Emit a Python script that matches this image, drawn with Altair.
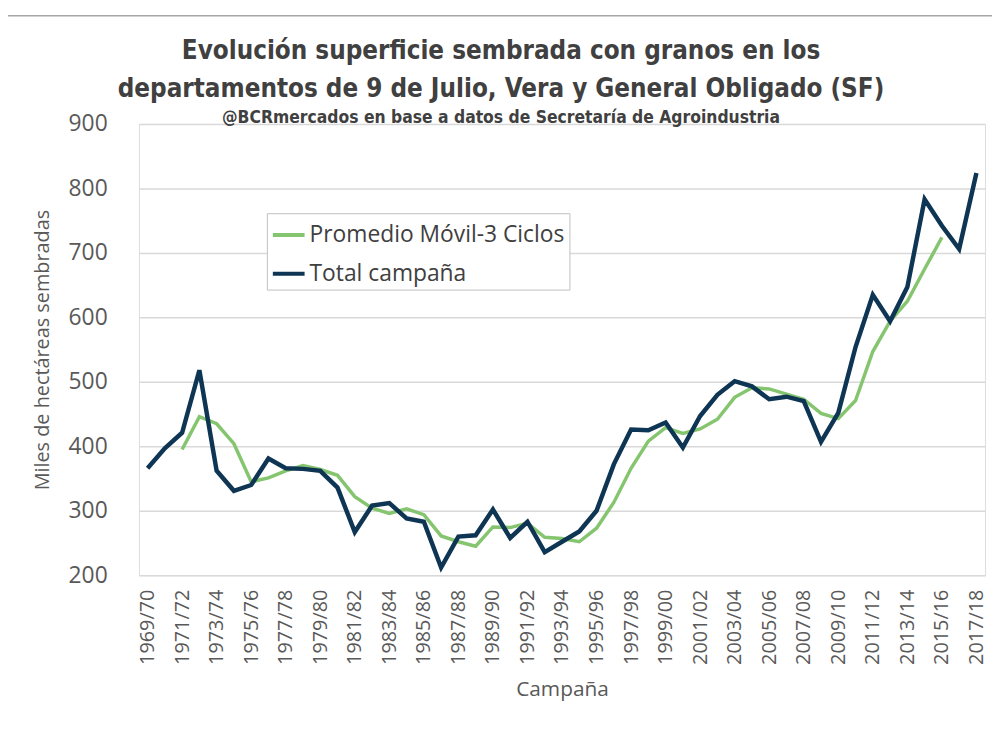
import altair as alt
import pandas as pd

campaigns = [
    "1969/70", "1970/71", "1971/72", "1972/73", "1973/74", "1974/75", "1975/76",
    "1976/77", "1977/78", "1978/79", "1979/80", "1980/81", "1981/82", "1982/83",
    "1983/84", "1984/85", "1985/86", "1986/87", "1987/88", "1988/89", "1989/90",
    "1990/91", "1991/92", "1992/93", "1993/94", "1994/95", "1995/96", "1996/97",
    "1997/98", "1998/99", "1999/00", "2000/01", "2001/02", "2002/03", "2003/04",
    "2004/05", "2005/06", "2006/07", "2007/08", "2008/09", "2009/10", "2010/11",
    "2011/12", "2012/13", "2013/14", "2014/15", "2015/16", "2016/17", "2017/18",
]

total = [
    366, 397, 421, 518, 362, 331, 340, 381, 366, 365, 362, 336, 267, 308,
    312, 288, 283, 212, 260, 262, 302, 258, 283, 236, 252, 268, 300, 372,
    426, 425, 437, 398, 447, 480, 501, 493, 473, 477, 470, 407, 452, 554,
    635, 594, 647, 783, 742, 706, 824,
]

# Promedio móvil (3 ciclos): 1971/72 .. 2015/16
promedio = [
    None, None, 395, 446, 435, 404, 345, 351, 362, 370, 364, 355, 322, 304,
    296, 303, 294, 261, 252, 245, 275, 274, 281, 259, 257, 252, 273, 313,
    366, 408, 429, 420, 427, 442, 476, 491, 489, 481, 473, 451, 443, 471,
    547, 594, 625, 675, 724, None, None,
]

tick_labels = [
    "1969/70", "1971/72", "1973/74", "1975/76", "1977/78", "1979/80", "1981/82",
    "1983/84", "1985/86", "1987/88", "1989/90", "1991/92", "1993/94", "1995/96",
    "1997/98", "1999/00", "2001/02", "2003/04", "2005/06", "2007/08", "2009/10",
    "2011/12", "2013/14", "2015/16", "2017/18",
]
y_ticks = [200, 300, 400, 500, 600, 700, 800, 900]

series_names = ["Promedio Móvil-3 Ciclos", "Total campaña"]
series_colors = ["#86c56f", "#0e3553"]

title_line1 = "Evolución superficie sembrada con granos en los"
title_line2 = "departamentos de 9 de Julio, Vera y General Obligado (SF)"
subtitle = "@BCRmercados en base a datos de Secretaría de Agroindustria"

df_total = pd.DataFrame({"Campaña": campaigns, "valor": total, "serie": series_names[1]})
df_prom = pd.DataFrame({"Campaña": campaigns, "valor": promedio, "serie": series_names[0]}).dropna()
df_one = pd.DataFrame({"k": [0]})

TXT = "#404040"
LBL = "#595959"
BODY_FONT = "Open Sans"
TITLE_FONT = "Liberation Sans Narrow, DejaVu Sans Condensed, sans-serif"

x_enc = alt.X(
    "Campaña:N",
    sort=campaigns,
    scale=alt.Scale(type="point", padding=0.5),
    axis=alt.Axis(
        values=tick_labels,
        labelAngle=-90,
        labelFontSize=20,
        labelFont=BODY_FONT,
        labelColor=LBL,
        labelPadding=14,
        domain=False,
        ticks=False,
        grid=False,
        title="Campaña",
        titleFontSize=21,
        titleFont=BODY_FONT,
        titleFontWeight="normal",
        titleColor=LBL,
        titlePadding=14,
    ),
)
y_enc = alt.Y(
    "valor:Q",
    scale=alt.Scale(domain=[200, 900], nice=False, zero=False),
    axis=alt.Axis(
        values=y_ticks,
        labelFontSize=23,
        labelFont=BODY_FONT,
        labelColor=LBL,
        labelPadding=32,
        domain=False,
        ticks=False,
        gridColor="#d9d9d9",
        gridWidth=1.5,
        title="Miles de hectáreas sembradas",
        titleFontSize=20,
        titleFont=BODY_FONT,
        titleFontWeight="normal",
        titleColor=LBL,
        titlePadding=16,
    ),
)
color_enc = alt.Color(
    "serie:N",
    scale=alt.Scale(domain=series_names, range=series_colors),
    legend=alt.Legend(
        title=None,
        orient="none",
        legendX=129,
        legendY=90,
        symbolType="stroke",
        symbolSize=1024,
        symbolStrokeWidth=4,
        labelFontSize=23,
        labelFont=BODY_FONT,
        labelColor=TXT,
        labelOffset=3,
        rowPadding=9,
        padding=4,
        strokeColor="#bfbfbf",
        fillColor="white",
        labelLimit=400,
    ),
)

prom_line = alt.Chart(df_prom).mark_line(strokeWidth=3.5).encode(
    x=x_enc, y=y_enc, color=color_enc
)
total_line = alt.Chart(df_total).mark_line(strokeWidth=4.5).encode(
    x=x_enc, y=y_enc, color=color_enc
)

frame_top = alt.Chart(df_one).mark_rule(color="#a6a6a6", strokeWidth=1.5).encode(
    x=alt.value(-135), x2=alt.value(860), y=alt.value(-109)
)
frame_left = alt.Chart(df_one).mark_rule(color="#a6a6a6", strokeWidth=1.5).encode(
    x=alt.value(-134), y=alt.value(-109), y2=alt.value(620)
)

t1 = alt.Chart(df_one).mark_text(
    font=TITLE_FONT, fontSize=26, fontWeight="bold", color=TXT,
    align="center", baseline="alphabetic",
).encode(x=alt.value(365), y=alt.value(-65), text=alt.value(title_line1))
t2 = alt.Chart(df_one).mark_text(
    font=TITLE_FONT, fontSize=26, fontWeight="bold", color=TXT,
    align="center", baseline="alphabetic",
).encode(x=alt.value(365), y=alt.value(-27), text=alt.value(title_line2))
t3 = alt.Chart(df_one).mark_text(
    font=TITLE_FONT, fontSize=17.5, fontWeight="bold", color=TXT,
    align="center", baseline="alphabetic",
).encode(x=alt.value(365), y=alt.value(-1), text=alt.value(subtitle))

chart = (
    alt.layer(frame_top, frame_left, t1, t2, t3, prom_line, total_line)
    .properties(
        width=853,
        height=455,
        padding={"left": 132, "top": 114, "right": 7, "bottom": 140},
        autosize=alt.AutoSizeParams(type="none"),
    )
    .configure_view(stroke=None)
    .configure(background="white")
)

chart.save("out.html", embed_options={"renderer": "svg", "actions": False})
